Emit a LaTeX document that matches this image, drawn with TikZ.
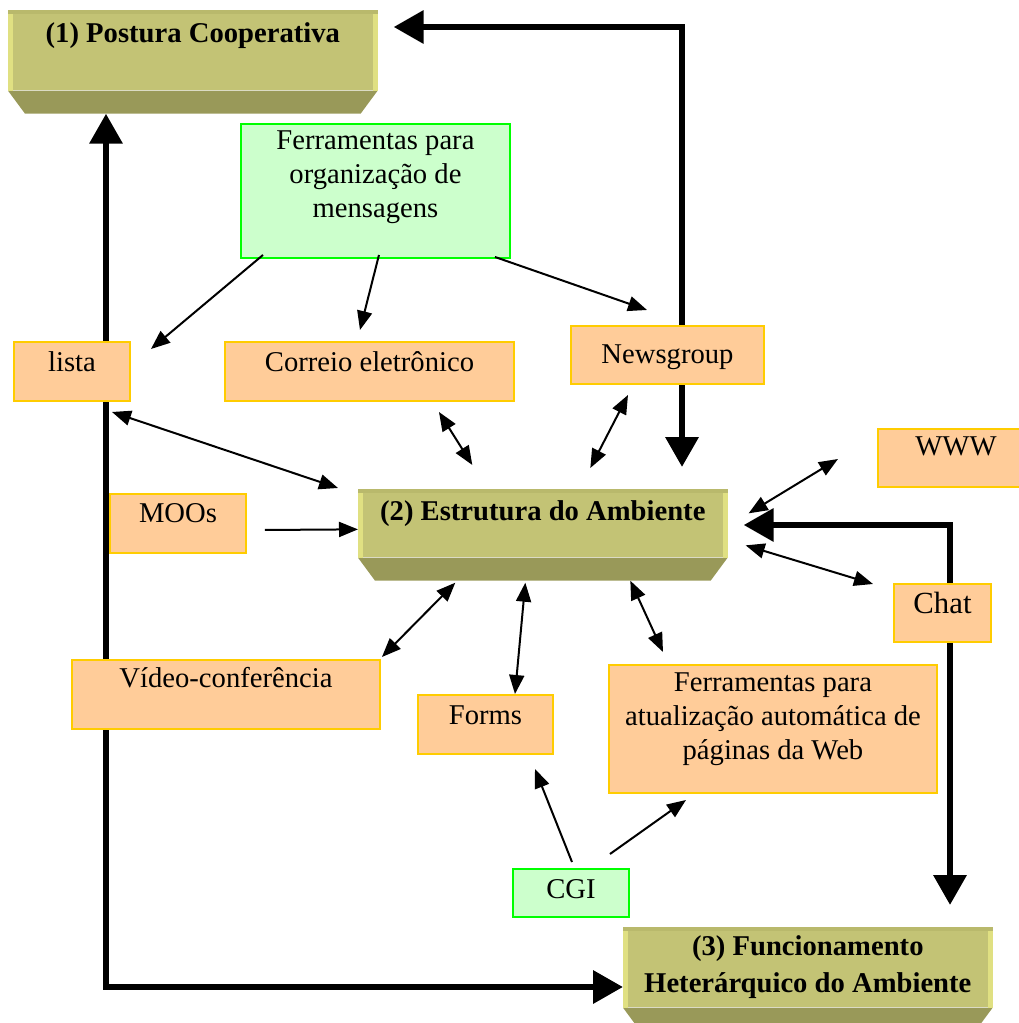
\documentclass[tikz,border=0pt]{standalone}
\usepackage{fontspec}
\setmainfont{Liberation Serif}
\usetikzlibrary{arrows.meta,calc,backgrounds}
\definecolor{toolfill}{HTML}{FFCC99}
\definecolor{tooldraw}{HTML}{FFCC00}
\definecolor{webfill}{HTML}{CCFFCC}
\definecolor{webdraw}{HTML}{00FF00}
\definecolor{bevface}{RGB}{195,195,117}
\definecolor{bevdark}{RGB}{153,153,89}
\definecolor{bevlight}{RGB}{224,224,130}
\definecolor{bevtop}{RGB}{185,185,108}
\tikzset{
  tool/.style={draw=tooldraw, fill=toolfill, line width=0.04cm, inner sep=0pt, anchor=north west, align=center},
  webtool/.style={tool, draw=webdraw, fill=webfill},
  level/.style={fill=bevface, inner sep=0pt, anchor=north west, align=center,
    font=\fontsize{16.3}{21}\selectfont\bfseries, minimum width=7.38cm},
  link/.style={line width=0.04cm, -{Triangle[length=0.38cm,width=0.3cm]}},
  dlink/.style={link, {Triangle[length=0.38cm,width=0.3cm]}-{Triangle[length=0.38cm,width=0.3cm]}},
  bigarr/.style={line width=0.13cm, {Triangle[length=0.6cm,width=0.64cm]}-{Triangle[length=0.6cm,width=0.64cm]}},
}
% bevelled base under a level box
\newcommand\bevelbox[1]{%
  \fill[bevdark] (#1.south west) -- (#1.south east) -- ([xshift=-0.34cm,yshift=-0.46cm]#1.south east)
    -- ([xshift=0.34cm,yshift=-0.46cm]#1.south west) -- cycle;
  \fill[bevlight] (#1.north west) rectangle ([xshift=0.1cm]#1.south west);
  \fill[bevlight] (#1.north east) rectangle ([xshift=-0.1cm]#1.south east);
  \fill[bevtop] (#1.north west) rectangle ([yshift=-0.08cm]#1.north east);
}
\begin{document}
\begin{tikzpicture}[x=0.02cm, y=-0.02cm, font=\fontsize{16.3}{19.4}\selectfont]
  \useasboundingbox (0,0) rectangle (1018,1023);

  % the three levels
  \node[level, text height=0.64cm, text depth=0.96cm] (post) at (8,10) {(1) Postura Cooperativa};
  \node[level, text height=0.62cm, text depth=0.74cm] (estr) at (358,489) {(2) Estrutura do Ambiente};
  \node[level, text height=1.3cm, text depth=0.3cm] (func) at (623,927)
    {(3) Funcionamento\\Heterárquico do Ambiente};
  \bevelbox{post}
  \bevelbox{estr}
  \bevelbox{func}

  % tools
  \node[webtool, minimum width=5.38cm, text height=1.88cm, text depth=0.8cm] (org) at (240,123)
    {Ferramentas para\\organização de\\mensagens};
  \node[tool, minimum width=2.32cm, text height=0.6cm, text depth=0.58cm] (lista) at (13,341) {lista};
  \node[tool, minimum width=5.78cm, text height=0.6cm, text depth=0.58cm] (corr) at (224,341) {Correio eletrônico};
  \node[tool, minimum width=3.86cm, text height=0.76cm, text depth=0.4cm] (news) at (570,325) {Newsgroup};
  \node[tool, minimum width=3.12cm, text height=0.54cm, text depth=0.62cm] (www) at (877,428) {WWW};
  \node[tool, minimum width=2.72cm, text height=0.58cm, text depth=0.6cm] (moos) at (109,493) {MOOs};
  \node[tool, minimum width=1.94cm, text height=0.6cm, text depth=0.56cm, font=\fontsize{17.5}{21}\selectfont] (chat) at (893,583) {Chat};
  \node[tool, minimum width=6.16cm, text height=0.56cm, text depth=0.82cm] (video) at (71,659) {Vídeo-conferência};
  \node[tool, minimum width=2.7cm, text height=0.58cm, text depth=0.6cm] (forms) at (417,694) {Forms};
  \node[tool, minimum width=6.56cm, text height=1.9cm, text depth=0.66cm] (atual) at (608,664)
    {Ferramentas para\\atualização automática de\\páginas da Web};
  \node[webtool, minimum width=2.32cm, text height=0.58cm, text depth=0.38cm] (cgi) at (512,868) {CGI};

  % thick links between levels
  \coordinate (ctop) at (682,27);
  \coordinate (cleft) at (106,987);
  \coordinate (cright) at (950,525);
  \begin{pgfonlayer}{background}
    \draw[bigarr, shorten <=0.32cm, shorten >=0.44cm] (post.east |- ctop) -- (ctop) -- (estr.north -| ctop);
    \draw[bigarr, shorten <=0.46cm] (post.south -| cleft) -- (cleft) -- (func.west |- cleft);
    \draw[bigarr, shorten <=0.32cm, shorten >=0.44cm] (estr.east |- cright) -- (cright) -- (func.north -| cright);
  \end{pgfonlayer}

  % thin links
  \draw[link] ($(org.south west)+(23,-4)$) -- ($(lista.north east)+(20,8)$);
  \draw[link] ($(org.south)+(3.5,-4)$) -- ($(corr.north)+(-9.5,-11)$);
  \draw[link] ($(org.south east)+(-16,-2)$) -- ($(news.north west)+(77,-15)$);
  \draw[dlink] ($(lista.south east)+(-19,10)$) -- ($(estr.north west)+(-20,-1)$);
  \draw[dlink] ($(corr.south)+(69.5,10)$) -- ($(estr.north)+(-70.5,-24)$);
  \draw[dlink] ($(news.south)+(-39.5,10)$) -- ($(estr.north)+(47.5,-21)$);
  \draw[dlink] ($(www.west)+(-39,1)$) -- ($(estr.east)+(21,-10)$);
  \draw[link] ($(moos.east)+(18,6.5)$) -- ($(estr.west)+(0,6)$);
  \draw[dlink] ($(chat.west)+(-20,-29)$) -- ($(estr.east)+(18,22)$);
  \draw[dlink] ($(video.north east)+(1,-2)$) -- ($(estr.south)+(-87.5,25)$);
  \draw[dlink] ($(forms.north)+(29.5,0)$) -- ($(estr.south)+(-17.5,25)$);
  \draw[dlink] ($(atual.north west)+(55,-12)$) -- ($(estr.south)+(87.5,23)$);
  \draw[link] ($(cgi.north)+(1,-6)$) -- ($(forms.south)+(49.5,14)$);
  \draw[link] ($(cgi.north east)+(-20,-14)$) -- ($(atual.south west)+(78,6)$);
\end{tikzpicture}
\end{document}
